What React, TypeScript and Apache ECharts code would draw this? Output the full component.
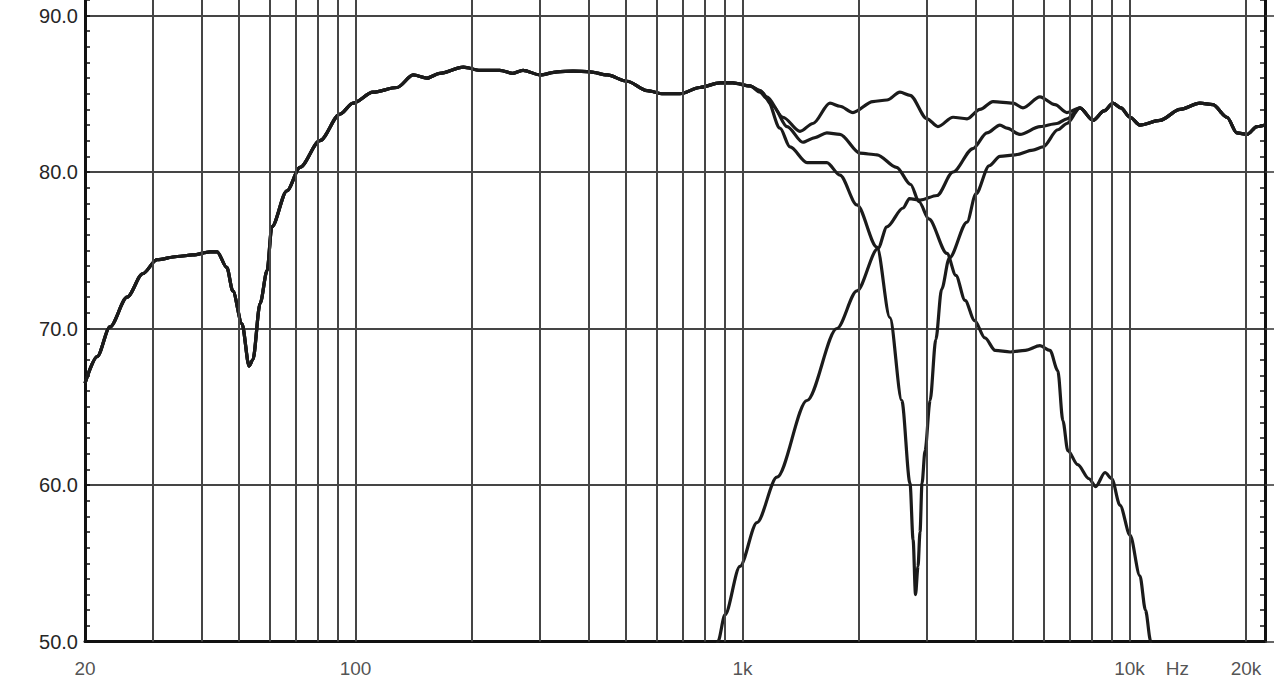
import React, { useEffect, useRef } from "react";
import * as echarts from "echarts";

// Shared low-frequency part (all curves identical below ~1 kHz)
const baseFreq = [20, 21.5, 23.2, 25.7, 28.2, 30.7, 34.6, 38, 42.1, 43.9, 46.5, 48.2, 50.9, 53.1, 54.3, 56.7, 59.1, 60.8, 66.5, 71.9, 80.9, 91.2, 98.5, 111, 128, 141, 153, 165, 190, 210, 236, 255, 271, 300, 332, 365, 404, 447, 503, 567, 624, 690, 776, 875, 944, 1046];
const baseDb = [66.5, 68.2, 70.1, 72.0, 73.5, 74.4, 74.6, 74.7, 74.9, 74.9, 73.9, 72.4, 70.3, 67.6, 68.0, 71.6, 73.7, 76.5, 78.8, 80.3, 82.0, 83.7, 84.4, 85.1, 85.4, 86.2, 86.0, 86.3, 86.7, 86.5, 86.5, 86.3, 86.5, 86.2, 86.4, 86.45, 86.4, 86.2, 85.8, 85.2, 85.0, 85.0, 85.4, 85.7, 85.7, 85.5];

// Shared high-frequency tail (sum, reversed sum and tweeter overlap)
const tailFreq = [7448, 8048, 8600, 9068, 9500, 10034, 10641, 11993, 13506, 15210, 16432, 17864, 18954, 20120, 21360, 22400];
const tailDb = [84.1, 83.3, 83.9, 84.4, 84.1, 83.5, 83.0, 83.3, 84.0, 84.4, 84.3, 83.5, 82.5, 82.4, 82.9, 83.0];

// Summed response (in phase)
const sumFreq = [1110, 1156, 1272, 1408, 1521, 1683, 1786, 1929, 2173, 2362, 2552, 2710, 2998, 3200, 3500, 3804, 4108, 4440, 5000, 5306, 5872, 6420, 6894];
const sumDb = [85.2, 84.8, 83.5, 82.6, 83.1, 84.4, 84.2, 83.8, 84.5, 84.6, 85.1, 84.9, 83.4, 82.9, 83.5, 83.4, 84.0, 84.5, 84.4, 84.1, 84.8, 84.3, 83.8];

// Summed response with reversed tweeter polarity (notch)
const notchFreq = [1110, 1156, 1250, 1327, 1468, 1652, 1786, 1976, 2226, 2404, 2580, 2710, 2760, 2800, 2842, 2876, 2910, 2964, 3054, 3160, 3270, 3424, 3804, 4010, 4342, 4628, 5069, 5632, 5978, 6530, 6894];
const notchDb = [85.1, 84.7, 82.8, 81.6, 80.6, 80.6, 79.8, 77.9, 75.2, 70.7, 65.4, 60.1, 56.5, 53.0, 54.8, 57.0, 60.1, 62.2, 65.4, 69.3, 72.5, 74.5, 76.8, 78.6, 80.4, 81.0, 81.1, 81.4, 81.6, 82.7, 83.1];

// Woofer
const wooferFreq = [1110, 1200, 1304, 1432, 1540, 1652, 1786, 2012, 2226, 2500, 2720, 2860, 3030, 3376, 3560, 3760, 3980, 4232, 4496, 4920, 5380, 5872, 6230, 6530, 6730, 6930, 7350, 7860, 8180, 8646, 9000, 9454, 10034, 10641, 11000, 11350, 11700];
const wooferDb = [85.2, 84.2, 82.9, 81.9, 82.2, 82.5, 82.4, 81.2, 81.1, 80.3, 79.2, 78.1, 77.0, 74.8, 73.4, 71.8, 70.5, 69.4, 68.6, 68.5, 68.6, 68.9, 68.6, 67.3, 64.1, 62.2, 61.3, 60.4, 59.9, 60.8, 60.4, 58.7, 56.8, 54.2, 52.0, 50.0, 47.5];

// Tweeter
const tweeterFreq = [840, 864, 901, 985, 1090, 1228, 1468, 1754, 1976, 2238, 2362, 2600, 2700, 2876, 3182, 3500, 3941, 4282, 4628, 4824, 5212, 5872, 6496, 6894];
const tweeterDb = [48.8, 50.0, 51.7, 54.8, 57.6, 60.5, 65.4, 70.0, 72.4, 75.1, 76.5, 77.7, 78.3, 78.2, 78.5, 80.0, 81.5, 82.5, 83.0, 82.8, 82.4, 82.9, 83.1, 83.4];

// Grid lines and labels
const gridFreqs = [30, 40, 50, 60, 70, 80, 90, 100, 200, 300, 400, 500, 600, 700, 800, 900, 1000, 2000, 3000, 4000, 5000, 6000, 7000, 8000, 9000, 10000, 20000];
const xLabelFreqs = [20, 100, 1000, 10000, 13300, 20000];
const xLabelTexts = ["20", "100", "1k", "10k", "Hz", "20k"];

const zip = (f: number[], d: number[]) => f.map((v, i) => [v, d[i]]);

const curve = (name: string, data: number[][]) => ({
  name,
  type: "line",
  data,
  showSymbol: false,
  smooth: 0.3,
  smoothMonotone: "x",
  silent: true,
  z: 3,
  lineStyle: { color: "#1b1b1b", width: 3.2 },
});

export default function App() {
  const ref = useRef<HTMLDivElement>(null);
  useEffect(() => {
    if (!ref.current) return;
    const chart = echarts.init(ref.current, undefined, { renderer: "svg" });
    const base = zip(baseFreq, baseDb);
    const tail = zip(tailFreq, tailDb);
    const option: any = {
      animation: false,
      backgroundColor: "#ffffff",
      grid: { left: 85, right: 10, top: 0, bottom: 51.5, containLabel: false },
      xAxis: {
        type: "log",
        logBase: 10,
        min: 20,
        max: 22400,
        axisLine: { show: true, onZero: false, lineStyle: { color: "#111", width: 3 } },
        axisTick: { show: false },
        axisLabel: { show: false },
        splitLine: { show: false },
        minorTick: { show: false },
      },
      yAxis: [
        {
          type: "value",
          min: 50,
          max: 100,
          interval: 10,
          position: "left",
          axisLine: { show: true, lineStyle: { color: "#111", width: 3 } },
          axisTick: { show: true, inside: true, length: 5, lineStyle: { color: "#111", width: 1.5 } },
          minorTick: { show: true, splitNumber: 10, length: 5, lineStyle: { color: "#111", width: 1.5 } },
          axisLabel: {
            formatter: (v: number) => v.toFixed(1),
            showMaxLabel: false,
            fontSize: 20,
            color: "#262626",
            fontFamily: "Liberation Sans, Arial, sans-serif",
            margin: 7,
          },
          splitLine: { show: true, lineStyle: { color: "#454545", width: 2 } },
        },
        {
          type: "value",
          min: 50,
          max: 100,
          interval: 10,
          position: "right",
          axisLine: { show: true, lineStyle: { color: "#111", width: 3 } },
          axisTick: { show: false, inside: true },
          minorTick: { show: true, splitNumber: 10, length: 5, lineStyle: { color: "#111", width: 1.5 } },
          axisLabel: { show: false },
          splitLine: { show: false },
        },
        {
          type: "value",
          min: 50,
          max: 100,
          interval: 10,
          position: "right",
          axisLine: { show: false },
          axisTick: { show: true, inside: false, length: 9, lineStyle: { color: "#333", width: 1.5 } },
          minorTick: { show: false },
          axisLabel: { show: false },
          splitLine: { show: false },
        },
      ],
      series: [
        {
          type: "line",
          data: [[20, 50]],
          showSymbol: false,
          lineStyle: { opacity: 0 },
          silent: true,
          z: 1,
          markLine: {
            silent: true,
            symbol: ["none", "none"],
            label: { show: false },
            lineStyle: { color: "#454545", width: 2, type: "solid" },
            data: gridFreqs.map((f) => ({ xAxis: f })),
          },
        },
        curve("Woofer", [...base, ...zip(wooferFreq, wooferDb)]),
        curve("Reversed sum", [...base, ...zip(notchFreq, notchDb), ...tail]),
        curve("Sum", [...base, ...zip(sumFreq, sumDb), ...tail]),
        curve("Tweeter", [...zip(tweeterFreq, tweeterDb), ...tail]),
        {
          type: "scatter",
          data: xLabelFreqs.map((f, i) => ({ value: [f, 50], label: { formatter: xLabelTexts[i] } })),
          symbolSize: 1,
          itemStyle: { color: "rgba(0,0,0,0)" },
          clip: false,
          silent: true,
          z: 5,
          label: {
            show: true,
            position: "bottom",
            distance: 17,
            fontSize: 19,
            color: "#262626",
            fontFamily: "Liberation Sans, Arial, sans-serif",
          },
        },
      ],
    };
    chart.setOption(option);
    return () => chart.dispose();
  }, []);
  // The chart area starts above the visible page so that the 90 dB line sits near the top edge,
  // as in the cropped reference.
  return (
    <div
      ref={ref}
      style={{ position: "fixed", left: 0, top: -141, width: 1275, height: 834, background: "#fff" }}
    />
  );
}
